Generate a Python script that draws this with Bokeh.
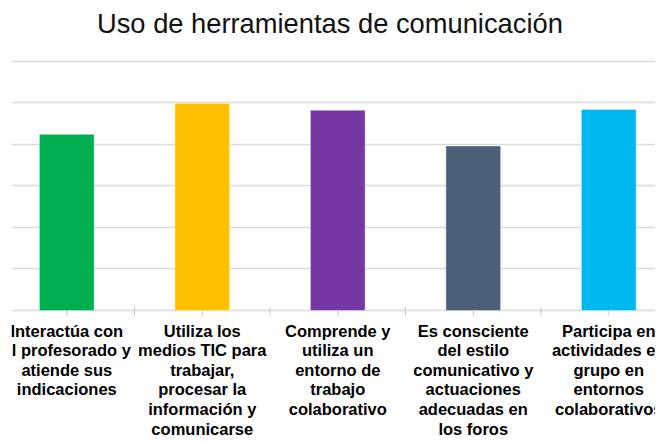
from bokeh.plotting import figure
from bokeh.models import Range1d, FixedTicker, Label, ColumnDataSource
from bokeh.core.properties import value
from bokeh.embed import file_html
from bokeh.resources import INLINE

title_text = "Uso de herramientas de comunicación"
categories = [
    "Interactúa con\nel profesorado y\natiende sus\nindicaciones",
    "Utiliza los\nmedios TIC para\ntrabajar,\nprocesar la\ninformación y\ncomunicarse",
    "Comprende y\nutiliza un\nentorno de\ntrabajo\ncolaborativo",
    "Es consciente\ndel estilo\ncomunicativo y\nactuaciones\nadecuadas en\nlos foros",
    "Participa en\nactividades en\ngrupo en\nentornos\ncolaborativos",
]
values = [2.12, 2.49, 2.41, 1.98, 2.42]
colors = ["#00b050", "#ffc000", "#7537a3", "#4d5e78", "#00b8f0"]
grid_ticks = [0.0, 0.5, 1.0, 1.5, 2.0, 2.5, 3.0]

xs = [i + 0.5 for i in range(len(categories))]
boundaries = [float(i) for i in range(1, len(categories))]

# layout: 83.1 px per value unit, value 0 at 310 px from the top of a 441 px frame
ppu = 83.1
frame_h = 441
y_top = 310 / ppu
y_bot = -(frame_h - 310) / ppu
x0, x1 = 0.092, 4.845

p = figure(
    frame_width=644, frame_height=frame_h,
    x_range=Range1d(x0, x1), y_range=Range1d(y_bot, y_top),
    output_backend="svg", toolbar_location=None,
    x_axis_location=None, y_axis_location=None,
    min_border_left=11, min_border_right=0, min_border_top=0, min_border_bottom=0,
)
p.outline_line_color = None
p.background_fill_color = "white"
p.border_fill_color = "white"

p.xgrid.visible = False
p.ygrid.ticker = FixedTicker(ticks=grid_ticks)
p.ygrid.grid_line_color = "#d9d9d9"
p.ygrid.grid_line_width = 1.5

p.vbar(x=xs, top=values, width=0.404, bottom=0, fill_color=colors,
       line_color="white", line_alpha=0.5, line_width=0.8)

# tick marks below the category axis
tick_len = 5 / ppu
p.segment(x0=xs, y0=[0] * len(xs), x1=xs, y1=[-tick_len] * len(xs),
          line_color="#c8c8c8", line_width=1)
p.segment(x0=boundaries, y0=[4 / ppu] * len(boundaries), x1=boundaries,
          y1=[-tick_len] * len(boundaries), line_color="#c8c8c8", line_width=1)

# category labels (clipped by the plot frame like the original)
label_src = ColumnDataSource(dict(x=xs, y=[-11 / ppu] * len(xs), t=categories))
p.text(x="x", y="y", text="t", source=label_src,
       text_font=value("Liberation Sans"), text_font_style="bold",
       text_font_size="16.5px", text_line_height=1.09,
       text_align="center", text_baseline="top", text_color="#000000")

title = Label(x=2.442, y=3.457, text=title_text,
              text_font="Liberation Sans", text_font_size="27.3px",
              text_align="center", text_baseline="alphabetic",
              text_color="#111111")
p.add_layout(title)

open("out.html", "w").write(file_html(p, INLINE))
